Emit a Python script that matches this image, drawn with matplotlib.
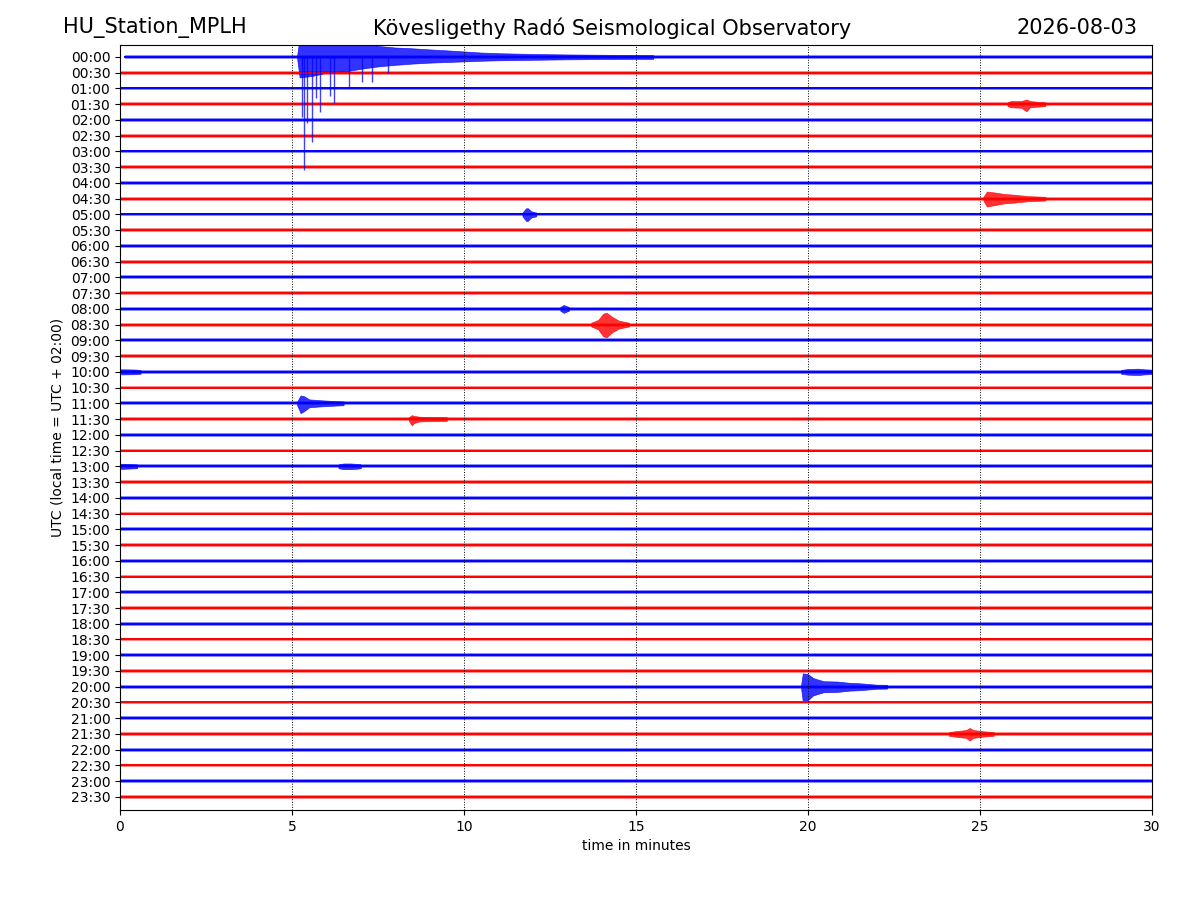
import matplotlib
matplotlib.use("Agg")
import matplotlib.pyplot as plt

# ---------------- data ----------------
station = "HU_Station_MPLH"
observatory = "Kövesligethy Radó Seismological Observatory"
date_str = "2026-08-03"
row_labels = [f"{h:02d}:{m:02d}" for h in range(24) for m in (0, 30)]
row_colors = ["#0000ff" if i % 2 == 0 else "#ff0000" for i in range(48)]
row_start = [0.15] + [0.0] * 47          # minute at which each trace starts
noise_half = 0.12                         # background trace half-width (rows)

# events: row index, envelope times (min), upward and downward amplitude (rows)
ev_rows = [0, 3, 9, 10, 16, 17, 20, 20, 22, 23, 26, 26, 40, 43]
ev_times = [
    [5.15, 5.22, 5.6, 6.0, 6.6, 7.0, 7.5, 8.0, 8.5, 9.0, 9.5, 10.0, 10.5, 11.0, 12.0, 13.0, 14.0, 15.5],
    [25.8, 25.9, 26.2, 26.35, 26.45, 26.7, 26.9],
    [25.1, 25.2, 25.4, 25.7, 26.0, 26.4, 26.9],
    [11.7, 11.8, 11.85, 11.95, 12.1],
    [12.8, 12.9, 12.95, 13.05],
    [13.7, 13.9, 14.05, 14.15, 14.3, 14.5, 14.8],
    [0.0, 0.1, 0.4, 0.6],
    [29.1, 29.3, 29.6, 29.8, 30.0],
    [5.15, 5.25, 5.35, 5.5, 5.8, 6.2, 6.5],
    [8.4, 8.48, 8.55, 8.7, 9.0, 9.5],
    [0.0, 0.1, 0.3, 0.5],
    [6.35, 6.5, 6.7, 6.9, 7.0],
    [19.8, 19.85, 20.0, 20.15, 20.45, 20.85, 21.2, 21.5, 22.0, 22.3],
    [24.1, 24.3, 24.6, 24.7, 24.8, 25.1, 25.4],
]
ev_up = [
    [0.1, 1.2, 1.2, 1.2, 1.2, 1.0, 0.7, 0.6, 0.55, 0.48, 0.42, 0.35, 0.28, 0.24, 0.19, 0.16, 0.14, 0.12],
    [0.12, 0.2, 0.2, 0.3, 0.2, 0.15, 0.12],
    [0.12, 0.45, 0.4, 0.3, 0.25, 0.16, 0.12],
    [0.12, 0.38, 0.4, 0.2, 0.12],
    [0.12, 0.25, 0.2, 0.12],
    [0.12, 0.3, 0.7, 0.75, 0.5, 0.25, 0.12],
    [0.16, 0.16, 0.15, 0.12],
    [0.12, 0.18, 0.2, 0.16, 0.14],
    [0.12, 0.5, 0.45, 0.25, 0.2, 0.15, 0.12],
    [0.12, 0.25, 0.2, 0.15, 0.13, 0.12],
    [0.16, 0.16, 0.14, 0.12],
    [0.12, 0.18, 0.18, 0.15, 0.12],
    [0.12, 0.85, 0.8, 0.55, 0.35, 0.33, 0.25, 0.22, 0.13, 0.12],
    [0.12, 0.18, 0.25, 0.38, 0.25, 0.17, 0.12],
]
ev_down = [
    [0.1, 1.3, 1.2, 1.0, 0.9, 0.75, 0.6, 0.5, 0.42, 0.36, 0.32, 0.28, 0.24, 0.21, 0.18, 0.15, 0.13, 0.12],
    [0.12, 0.2, 0.22, 0.45, 0.2, 0.15, 0.12],
    [0.12, 0.5, 0.42, 0.3, 0.25, 0.16, 0.12],
    [0.12, 0.4, 0.42, 0.2, 0.12],
    [0.12, 0.25, 0.2, 0.12],
    [0.12, 0.3, 0.75, 0.8, 0.5, 0.25, 0.12],
    [0.16, 0.16, 0.15, 0.12],
    [0.12, 0.18, 0.2, 0.16, 0.14],
    [0.12, 0.62, 0.5, 0.25, 0.2, 0.15, 0.12],
    [0.12, 0.4, 0.25, 0.15, 0.13, 0.12],
    [0.16, 0.16, 0.14, 0.12],
    [0.12, 0.18, 0.18, 0.15, 0.12],
    [0.12, 0.95, 0.85, 0.55, 0.35, 0.33, 0.25, 0.22, 0.13, 0.12],
    [0.12, 0.18, 0.25, 0.42, 0.25, 0.17, 0.12],
]
# large downward spikes of the big event on row 0: time (min), reach (rows below)
spike_t = [5.3, 5.36, 5.45, 5.57, 5.7, 5.81, 6.1, 6.22, 6.66, 7.03, 7.32, 7.8]
spike_d = [3.8, 7.2, 4.2, 5.4, 2.6, 3.5, 2.5, 2.9, 1.9, 1.6, 1.57, 1.0]

# ---------------- plot ----------------
fig = plt.figure(figsize=(12, 9), dpi=100)
ax = fig.add_axes([0.1, 0.1, 0.86, 0.85])

for i in range(48):
    c = row_colors[i]
    ax.fill_between([row_start[i], 30], i - noise_half, i + noise_half,
                    color=c, alpha=0.45, lw=0)
    ax.plot([row_start[i], 30], [i, i], color=c, lw=1.4)

for r, t, up, dn in zip(ev_rows, ev_times, ev_up, ev_down):
    c = row_colors[r]
    lo = [r - u for u in up]
    hi = [r + d for d in dn]
    ax.fill_between(t, lo, hi, color=c, alpha=0.8, lw=0.5)

ax.vlines(spike_t, 0, [0 + d for d in spike_d], color=row_colors[0], lw=1.0, alpha=0.75)

ax.set_xlim(0, 30)
ax.set_ylim(47.83, -0.76)
ax.set_xticks(range(0, 31, 5))
ax.set_yticks(range(48))
ax.set_yticklabels(row_labels)
ax.grid(axis="x", linestyle=":", color="black", linewidth=0.7)
ax.set_axisbelow(False)
ax.set_xlabel("time in minutes")
ax.set_ylabel("UTC (local time = UTC + 02:00)")

fig.text(0.0525, 0.969, station, fontsize=15, ha="left", va="center")
fig.text(0.51, 0.969, observatory, fontsize=15, ha="center", va="center")
fig.text(0.9475, 0.969, date_str, fontsize=15, ha="right", va="center")

fig.savefig("out.png", dpi=100)
